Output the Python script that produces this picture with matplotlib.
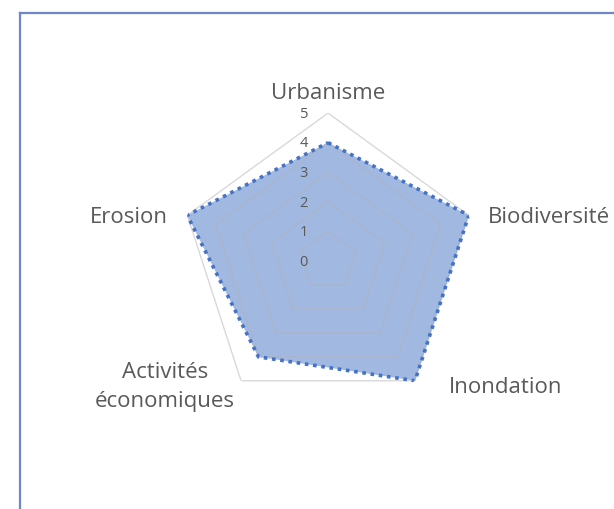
import numpy as np
import matplotlib
matplotlib.use("Agg")
import matplotlib.pyplot as plt
from matplotlib.lines import Line2D

categories = ["Urbanisme", "Biodiversité", "Inondation", "Activités\néconomiques", "Erosion"]
values = [4, 5, 5, 4, 5]
ring_levels = [1, 2, 3, 4, 5]
tick_labels = ["0", "1", "2", "3", "4", "5"]

plt.rcParams['font.family'] = ['Open Sans', 'DejaVu Sans']

fig = plt.figure(figsize=(6.14, 5.09), dpi=100)
ax = fig.add_axes([0.2932, 0.1964, 0.4821, 0.5815], projection='polar')
ax.set_theta_offset(np.pi / 2)
ax.set_theta_direction(-1)
ax.set_ylim(0, 5)
ax.spines['polar'].set_visible(False)
ax.grid(False)
ax.set_xticks([])
ax.set_yticks([])
ax.patch.set_alpha(0)

n = len(categories)
angles = np.arange(n) * 2 * np.pi / n
closed = np.append(angles, angles[0])

for lv in ring_levels:
    col = '#d9d9d9' if lv == 5 else '#a9b5cc'
    ax.plot(closed, [lv] * (n + 1), color=col, lw=1.0, zorder=1 if lv == 5 else 3)

vals = np.append(values, values[0])
ax.fill(closed, vals, color='#4472C4', alpha=0.5, lw=0, zorder=2)
ax.plot(closed, vals, color='#4472C4', lw=2.6, linestyle=(0, (1, 1.3)), zorder=4)

for i, t in enumerate(tick_labels):
    ax.annotate(t, xy=(0, i), xytext=(-14.4, 0.5), textcoords='offset points',
                ha='right', va='center_baseline', fontsize=10.5, color='#595959', zorder=5)

label_cfg = [
    dict(off=(0, 10), ha='center', va='baseline'),
    dict(off=(13.7, 0.5), ha='left', va='center_baseline'),
    dict(off=(24.5, -3), ha='left', va='center_baseline'),
    dict(off=(-4.5, -4.5), ha='right', va='center'),
    dict(off=(-13.7, 0.5), ha='right', va='center_baseline'),
]
for ang, cat, cfg in zip(angles, categories, label_cfg):
    ax.annotate(cat, xy=(ang, 5), xytext=cfg['off'], textcoords='offset points',
                ha=cfg['ha'], va=cfg['va'], fontsize=16, color='#595959',
                multialignment='center', linespacing=1.5, annotation_clip=False)

W, H = 614, 509
fx = 20 / W
fy = 1 - 12.5 / H
fig.add_artist(Line2D([fx, fx], [0, fy], transform=fig.transFigure, color='#6F87C9', lw=1.6))
fig.add_artist(Line2D([fx, 1], [fy, fy], transform=fig.transFigure, color='#6F87C9', lw=1.6))

fig.savefig("out.png", dpi=100)
